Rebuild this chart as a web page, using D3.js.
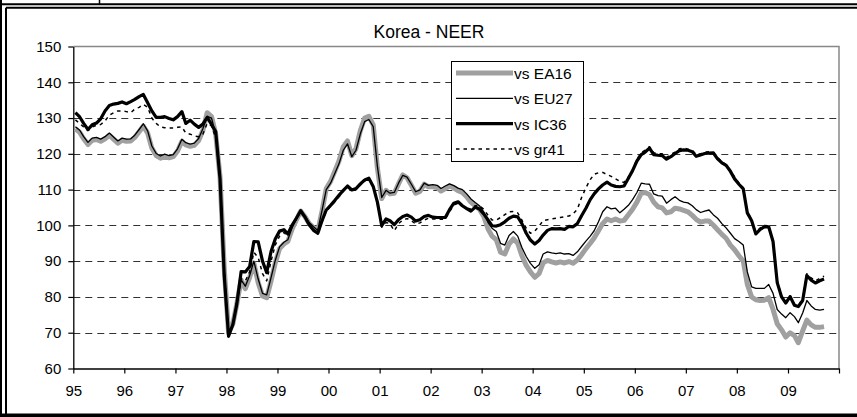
<!DOCTYPE html>
<html>
<head>
<meta charset="utf-8">
<script src="https://cdn.jsdelivr.net/npm/d3@7"></script>
<style>
  html, body { margin: 0; padding: 0; background: #fff; }
  svg { display: block; font-family: 'Liberation Sans', Arial, sans-serif; }
</style>
</head>
<body>
<div id="chart"></div>
<script>
// Monthly NEER indices, Jan 1995 .. Sep 2009 (one row per year)
const START_YEAR = 1995;
const YEAR_LABELS = ['95','96','97','98','99','00','01','02','03','04','05','06','07','08','09'];
const Y_TICKS = [60, 70, 80, 90, 100, 110, 120, 130, 140, 150];
const SERIES_NAMES = ['vs EA16', 'vs EU27', 'vs IC36', 'vs gr41'];

const EA16 = [
  127.0, 126.0, 124.2, 122.6, 123.8, 124.0, 123.5, 124.2, 125.2, 124.1, 123.0, 123.8,
  123.5, 123.6, 124.6, 126.2, 127.8, 125.8, 121.6, 119.5, 118.8, 119.3, 118.9, 119.2,
  120.8, 123.5, 122.5, 122.1, 122.4, 123.7, 126.5, 131.5, 130.4, 125.5, 113.5, 88.0,
  70.0, 72.5, 78.0, 84.8, 82.3, 85.5, 89.4, 84.0, 80.3, 79.8, 84.5, 89.5,
  93.5, 94.8, 95.5, 99.0, 101.5, 104.0, 102.5, 100.5, 99.4, 98.3, 104.0, 110.3,
  112.3, 115.2, 118.0, 122.0, 123.6, 119.5, 121.5, 126.5, 130.0, 130.5, 128.1, 116.0,
  107.5, 109.8, 108.8, 109.0, 111.6, 114.1, 113.3, 111.2, 109.0, 109.5, 111.5, 110.8,
  110.8, 110.6, 109.6, 110.3, 111.0, 110.5, 109.7, 109.2, 108.0, 106.5, 105.5, 104.5,
  102.5, 99.0, 97.0, 96.0, 92.5, 92.0, 94.8, 96.2, 95.0, 91.5, 88.8, 87.0,
  85.5, 86.5, 89.5, 90.2, 89.8, 89.5, 89.8, 89.5, 89.9, 89.4, 90.3, 91.8,
  93.5, 95.0, 96.5, 98.5, 100.5, 101.8, 101.3, 101.8, 101.2, 101.4, 103.0, 104.5,
  106.5, 109.0, 109.2, 108.6, 106.5, 105.2, 104.9, 103.5, 103.8, 104.8, 104.6, 104.2,
  103.8, 102.8, 101.7, 100.9, 101.2, 101.2, 100.1, 98.8, 97.5, 96.4, 94.5, 93.2,
  91.5, 90.0, 83.5, 80.0, 79.2, 79.0, 79.1, 79.8, 76.5, 72.5, 70.8, 68.8,
  70.0, 69.2, 67.2, 70.5, 73.5, 72.2, 71.5, 71.5, 71.7
];

const EU27 = [
  127.6, 126.6, 124.8, 123.2, 124.4, 124.6, 124.1, 124.8, 125.8, 124.7, 123.6, 124.4,
  124.1, 124.2, 125.2, 126.8, 128.4, 126.4, 122.2, 120.1, 119.4, 119.9, 119.5, 119.8,
  121.4, 124.1, 123.1, 122.7, 123.0, 124.3, 127.0, 130.5, 130.0, 125.5, 113.5, 87.5,
  70.0, 72.6, 78.5, 84.8, 83.0, 86.0, 90.0, 85.0, 81.0, 80.6, 85.4, 90.2,
  94.0, 95.3, 96.0, 99.4, 101.8, 104.2, 102.7, 100.8, 99.6, 98.6, 104.2, 110.0,
  111.8, 114.6, 117.2, 121.0, 122.8, 119.2, 121.0, 125.6, 129.0, 129.6, 127.6, 116.5,
  107.8, 109.8, 109.0, 109.2, 111.8, 114.0, 113.5, 111.5, 109.4, 109.9, 111.8, 111.2,
  111.4, 111.2, 110.3, 111.0, 111.6, 111.1, 110.4, 110.0, 108.8, 107.4, 106.4, 105.5,
  103.8, 100.8, 99.2, 98.3, 95.0, 94.5, 97.2, 98.3, 97.0, 93.8, 91.3, 89.4,
  88.0, 89.0, 92.0, 92.6, 92.3, 92.1, 92.3, 92.0, 92.1, 91.6, 92.6, 94.1,
  95.6, 97.0, 98.5, 101.0, 103.8, 105.2, 104.6, 104.8, 103.5, 104.5, 105.6, 107.2,
  109.2, 111.8, 111.6, 111.5, 108.8, 108.3, 108.2, 106.2, 107.2, 108.0, 107.0, 106.5,
  106.3, 105.5, 104.4, 103.6, 104.0, 104.3, 103.0, 102.0, 100.5, 99.3, 97.8, 96.3,
  95.5, 94.5, 87.0, 82.8, 82.4, 82.4, 82.4, 83.5, 81.0, 76.5, 75.2, 74.2,
  75.6, 74.5, 72.8, 75.5, 79.0, 77.5, 76.5, 76.3, 76.5
];

const IC36 = [
  131.5, 130.3, 128.5, 126.8, 128.1, 128.6, 129.8, 132.0, 133.5, 133.9, 134.1, 134.5,
  134.0, 134.6, 135.2, 136.0, 136.6, 134.3, 132.0, 130.2, 130.2, 130.4, 129.9, 129.5,
  130.4, 131.8, 128.5, 129.4, 128.3, 127.4, 128.3, 130.2, 128.2, 126.2, 113.0, 86.0,
  69.0, 72.3, 78.0, 87.1, 87.0, 88.5, 95.5, 95.4, 90.0, 86.8, 92.7, 96.2,
  98.4, 98.8, 97.6, 100.1, 102.0, 104.1, 102.4, 100.2, 98.6, 97.8, 101.3, 104.3,
  105.6, 107.0, 108.4, 109.8, 111.0, 109.9, 110.3, 111.6, 112.7, 113.2, 110.9, 106.5,
  99.9, 101.8, 101.3, 100.2, 101.6, 102.5, 102.9, 102.3, 101.2, 101.6, 102.5, 102.8,
  102.3, 102.2, 102.2, 102.2, 104.4, 106.2, 106.6, 105.5, 104.7, 104.0, 105.1, 104.6,
  103.2, 101.5, 99.9, 99.8, 100.2, 101.0, 102.0, 102.6, 102.4, 100.5, 97.8, 95.9,
  94.8, 95.8, 97.3, 98.6, 99.1, 99.0, 99.1, 98.9, 99.7, 99.6, 100.5, 102.7,
  104.8, 107.2, 108.8, 110.2, 111.3, 112.1, 111.3, 110.9, 110.8, 111.0, 113.2, 115.3,
  118.0, 119.8, 120.5, 121.6, 119.8, 119.6, 119.5, 118.5, 119.2, 120.1, 120.9, 121.1,
  121.0, 120.6, 119.3, 119.7, 120.1, 120.2, 120.3, 118.6, 117.5, 116.8, 115.1, 113.0,
  111.5, 110.2, 103.5, 101.3, 97.6, 98.9, 99.6, 99.6, 95.5, 84.0, 80.0, 78.3,
  80.1, 77.7, 77.3, 79.0, 86.0, 84.7, 83.9, 84.5, 85.0
];

const GR41 = [
  129.5, 128.5, 127.5, 126.5, 127.5, 128.0, 128.2, 129.2, 130.8, 131.5, 132.0, 132.0,
  131.8, 131.5, 132.5, 133.0, 133.8, 133.0, 130.0, 128.5, 127.5, 127.3, 127.2, 127.2,
  127.4, 127.5, 125.8, 125.5, 125.0, 124.8, 125.5, 128.5, 127.8, 124.5, 113.0, 87.0,
  69.0, 72.5, 78.0, 85.0, 84.5, 87.0, 92.5, 91.0, 86.5, 84.5, 90.0, 94.5,
  97.0, 98.0, 97.0, 99.8, 101.8, 104.0, 102.0, 100.0, 98.6, 97.6, 101.0, 104.0,
  105.3, 106.7, 108.0, 109.5, 110.7, 109.6, 110.0, 111.3, 112.4, 113.0, 110.7, 106.3,
  99.5, 100.8, 100.5, 98.5, 100.5, 101.5, 101.9, 101.3, 100.4, 100.7, 101.5, 102.0,
  101.8, 101.8, 101.7, 101.8, 103.8, 105.7, 106.2, 105.3, 104.8, 104.6, 105.5, 105.5,
  104.5, 102.8, 101.5, 101.5, 102.2, 103.0, 103.8, 103.9, 103.5, 101.5, 99.2, 97.8,
  98.4, 99.8, 101.3, 101.6, 101.8, 102.0, 102.2, 102.4, 102.6, 103.2, 104.5, 107.8,
  110.5, 112.8, 114.3, 114.7, 114.8, 114.2, 113.7, 113.0, 112.3, 112.0, 113.5, 115.3,
  118.5, 120.3, 121.0, 122.0, 120.3, 120.0, 120.0, 119.0, 119.8, 120.5, 121.4, 121.6,
  121.3, 121.0, 119.8, 120.0, 120.5, 120.6, 120.4, 119.0, 117.8, 117.0, 115.5, 113.5,
  111.8, 110.5, 104.0, 101.5, 98.0, 99.3, 100.0, 99.9, 95.8, 84.5, 80.3, 78.6,
  80.3, 78.0, 77.6, 79.5, 86.5, 85.3, 84.5, 85.2, 85.8
];

const W = 857, H = 417;
// plot area box
const PX0 = 73.3, PX1 = 839, PY0 = 46.5, PY1 = 368.5;

const svg = d3.select('#chart').append('svg')
  .attr('width', W).attr('height', H);

// outer double frame
const frame = svg.append('g').attr('stroke', '#000').attr('fill', 'none');
frame.append('line').attr('x1', 1).attr('x2', 1).attr('y1', 0).attr('y2', H).attr('stroke-width', 2);
frame.append('line').attr('x1', 6).attr('x2', 6).attr('y1', 7.7).attr('y2', 414).attr('stroke-width', 2);
frame.append('line').attr('x1', 0).attr('x2', W).attr('y1', 4.3).attr('y2', 4.3).attr('stroke-width', 2);
frame.append('line').attr('x1', 6).attr('x2', W).attr('y1', 7.7).attr('y2', 7.7).attr('stroke-width', 2);
frame.append('line').attr('x1', 99.5).attr('x2', 99.5).attr('y1', 0).attr('y2', 4).attr('stroke-width', 1.5);
frame.append('rect').attr('x', 0).attr('y', 413.5).attr('width', W).attr('height', 4).attr('fill', '#000').attr('stroke', 'none');

const x = d3.scaleTime()
  .domain([new Date(START_YEAR, 0, 1), new Date(START_YEAR + YEAR_LABELS.length, 0, 1)])
  .range([PX0, PX1]);

const y = d3.scaleLinear()
  .domain([d3.min(Y_TICKS), d3.max(Y_TICKS)])
  .range([PY1, PY0]);

// dashed gridlines
svg.append('g')
  .selectAll('line')
  .data(Y_TICKS.slice(1, -1))
  .join('line')
  .attr('x1', PX0).attr('x2', PX1)
  .attr('y1', d => Math.round(y(d)) + 0.5).attr('y2', d => Math.round(y(d)) + 0.5)
  .attr('stroke', '#333')
  .attr('stroke-dasharray', '7,5');

// plot border (top + right) in grey
svg.append('path')
  .attr('d', `M${PX0},${y(150)}H${PX1}V${PY1}`)
  .attr('fill', 'none')
  .attr('stroke', '#888')
  .attr('stroke-width', 1.5);

// axes
const yearTicks = d3.range(YEAR_LABELS.length + 1).map(i => new Date(START_YEAR + i, 0, 1));

const yAxis = svg.append('g')
  .attr('transform', `translate(${PX0},0)`)
  .call(d3.axisLeft(y).tickValues(Y_TICKS).tickSize(5).tickSizeOuter(0).tickPadding(7));

const xAxis = svg.append('g')
  .attr('transform', `translate(0,${PY1})`)
  .call(d3.axisBottom(x).tickValues(yearTicks).tickSize(5).tickSizeOuter(0).tickPadding(12)
    .tickFormat((d, i) => YEAR_LABELS[i] || ''));

[yAxis, xAxis].forEach(ax => {
  ax.selectAll('path.domain').attr('stroke', '#000').attr('stroke-width', 1.3);
  ax.selectAll('.tick line').attr('stroke', '#000').attr('stroke-width', 1.2);
  ax.selectAll('text').attr('font-size', 15).attr('fill', '#000')
    .attr('font-family', "'Liberation Sans', Arial, sans-serif");
});

// series
const toPoints = vals => vals.map((v, i) => ({ date: new Date(START_YEAR, i, 16), value: v }));

const series = [
  { name: SERIES_NAMES[0], values: toPoints(EA16), color: '#a0a0a0', width: 5, dash: null },
  { name: SERIES_NAMES[1], values: toPoints(EU27), color: '#000', width: 1.3, dash: null },
  { name: SERIES_NAMES[2], values: toPoints(IC36), color: '#000', width: 3.2, dash: null },
  { name: SERIES_NAMES[3], values: toPoints(GR41), color: '#000', width: 1.5, dash: '3.5,4' },
];

const line = d3.line()
  .x(d => x(d.date))
  .y(d => y(d.value));

svg.append('g')
  .selectAll('path')
  .data(series)
  .join('path')
  .attr('d', d => line(d.values))
  .attr('fill', 'none')
  .attr('stroke', d => d.color)
  .attr('stroke-width', d => d.width)
  .attr('stroke-dasharray', d => d.dash)
  .attr('stroke-linejoin', 'round');

// title
svg.append('text')
  .attr('x', 429).attr('y', 38)
  .attr('text-anchor', 'middle')
  .attr('font-size', 17.5)
  .text('Korea - NEER');

// legend
const legend = svg.append('g').attr('transform', 'translate(451,61)');
legend.append('rect')
  .attr('x', 0.5).attr('y', 0.5)
  .attr('width', 132).attr('height', 100)
  .attr('fill', '#fff').attr('stroke', '#000');

const items = legend.selectAll('g.item')
  .data(series)
  .join('g')
  .attr('class', 'item')
  .attr('transform', (d, i) => `translate(0,${12 + i * 25.3})`);

items.append('line')
  .attr('x1', 5).attr('x2', 62)
  .attr('stroke', d => d.color)
  .attr('stroke-width', d => d.width)
  .attr('stroke-dasharray', d => d.dash);

items.append('text')
  .attr('x', 63).attr('y', 6)
  .attr('font-size', 15.5)
  .text(d => d.name);
</script>
</body>
</html>
